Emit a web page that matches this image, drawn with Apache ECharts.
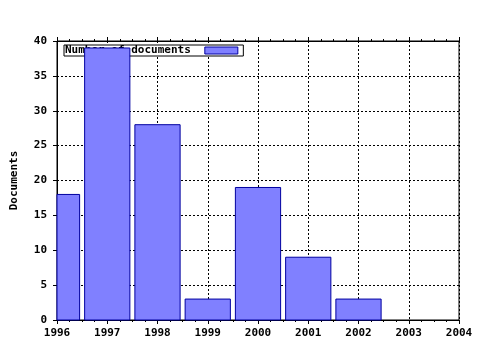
<!DOCTYPE html>
<html><head><meta charset="utf-8">
<script src="https://cdn.jsdelivr.net/npm/echarts@6/dist/echarts.min.js"></script>
<style>html,body{margin:0;padding:0;background:#fff}#c{width:480px;height:350px}</style>
</head><body><div id="c"></div>
<script>
const years = [1996, 1997, 1998, 1999, 2000, 2001, 2002, 2003, 2004];
const documents = [18, 39, 28, 3, 19, 9, 3, 0, 0];
const seriesName = 'Number of documents';
const yAxisName = 'Documents';

const font = 'DejaVu Sans Mono';
const txt = {fontFamily: font, fontWeight: 'bold', fontSize: 11, color: '#000'};
const dash = {color: '#000', width: 1, type: [2, 2]};
const barFill = '#8080ff', barEdge = '#0000a0';

function renderBar(params, api) {
  const yr = api.value(0), v = api.value(1);
  if (!v) return null;
  const top = api.coord([yr, v]);
  const base = api.coord([yr, 0]);
  const w = api.size([1, 0])[0] * 0.9;
  const cs = params.coordSys;
  const shape = echarts.graphic.clipRectByRect(
    {x: top[0] - w / 2, y: top[1], width: w, height: base[1] - top[1]},
    {x: cs.x, y: cs.y, width: cs.width, height: cs.height});
  if (!shape) return null;
  return {type: 'rect', shape: shape, style: {fill: barFill, stroke: barEdge, lineWidth: 1}};
}

const chart = echarts.init(document.getElementById('c'), null, {renderer: 'canvas'});
chart.setOption({
  animation: false,
  backgroundColor: '#fff',
  grid: {left: 57, right: 21, top: 41, bottom: 30, containLabel: false, outerBoundsMode: 'none',
         show: true, borderColor: '#000', borderWidth: 1, backgroundColor: 'transparent'},
  legend: {
    show: true, left: 64, top: 45, z: 1,
    align: 'right',
    data: [{name: seriesName, icon: 'rect'}],
    backgroundColor: '#fff', borderColor: '#000', borderWidth: 1,
    padding: [0, 5, 0, 1],
    itemWidth: 33, itemHeight: 7,
    textStyle: Object.assign({}, txt, {padding: [0, 9, 0, 0]}),
    itemStyle: {color: barFill, borderColor: barEdge, borderWidth: 1}
  },
  xAxis: [{
    type: 'value', min: years[0], max: years[years.length - 1], interval: 1,
    position: 'bottom',
    axisLine: {show: true, lineStyle: {color: '#000', width: 1}},
    axisTick: {show: true, inside: false, length: 4, lineStyle: {color: '#000'}},
    minorTick: {show: true, splitNumber: 4, length: 2, lineStyle: {color: '#000'}},
    axisLabel: Object.assign({}, txt, {margin: 8, formatter: v => String(v), showMinLabel: true, showMaxLabel: true}),
    splitLine: {show: true, lineStyle: dash}
  }, {
    type: 'value', min: years[0], max: years[years.length - 1], interval: 1,
    position: 'top',
    axisLine: {show: true, lineStyle: {color: '#000', width: 1}},
    axisTick: {show: true, inside: false, length: 4, lineStyle: {color: '#000'}},
    minorTick: {show: true, splitNumber: 4, length: 2, lineStyle: {color: '#000'}},
    axisLabel: {show: false},
    splitLine: {show: false}
  }],
  yAxis: [{
    type: 'value', min: 0, max: 40, interval: 5,
    name: yAxisName, nameLocation: 'middle', nameGap: 37, nameRotate: 90,
    nameTextStyle: txt,
    axisLine: {show: true, lineStyle: {color: '#000', width: 1}},
    axisTick: {show: true, inside: false, length: 4, lineStyle: {color: '#000'}},
    axisLabel: Object.assign({}, txt, {margin: 10}),
    splitLine: {show: true, lineStyle: dash}
  }],
  series: [{
    name: seriesName,
    type: 'custom',
    xAxisIndex: 0,
    z: 5,
    itemStyle: {color: barFill, borderColor: barEdge, borderWidth: 1},
    encode: {x: 0, y: 1},
    renderItem: renderBar,
    data: years.map((y, i) => [y, documents[i]])
  }]
});
</script></body></html>
